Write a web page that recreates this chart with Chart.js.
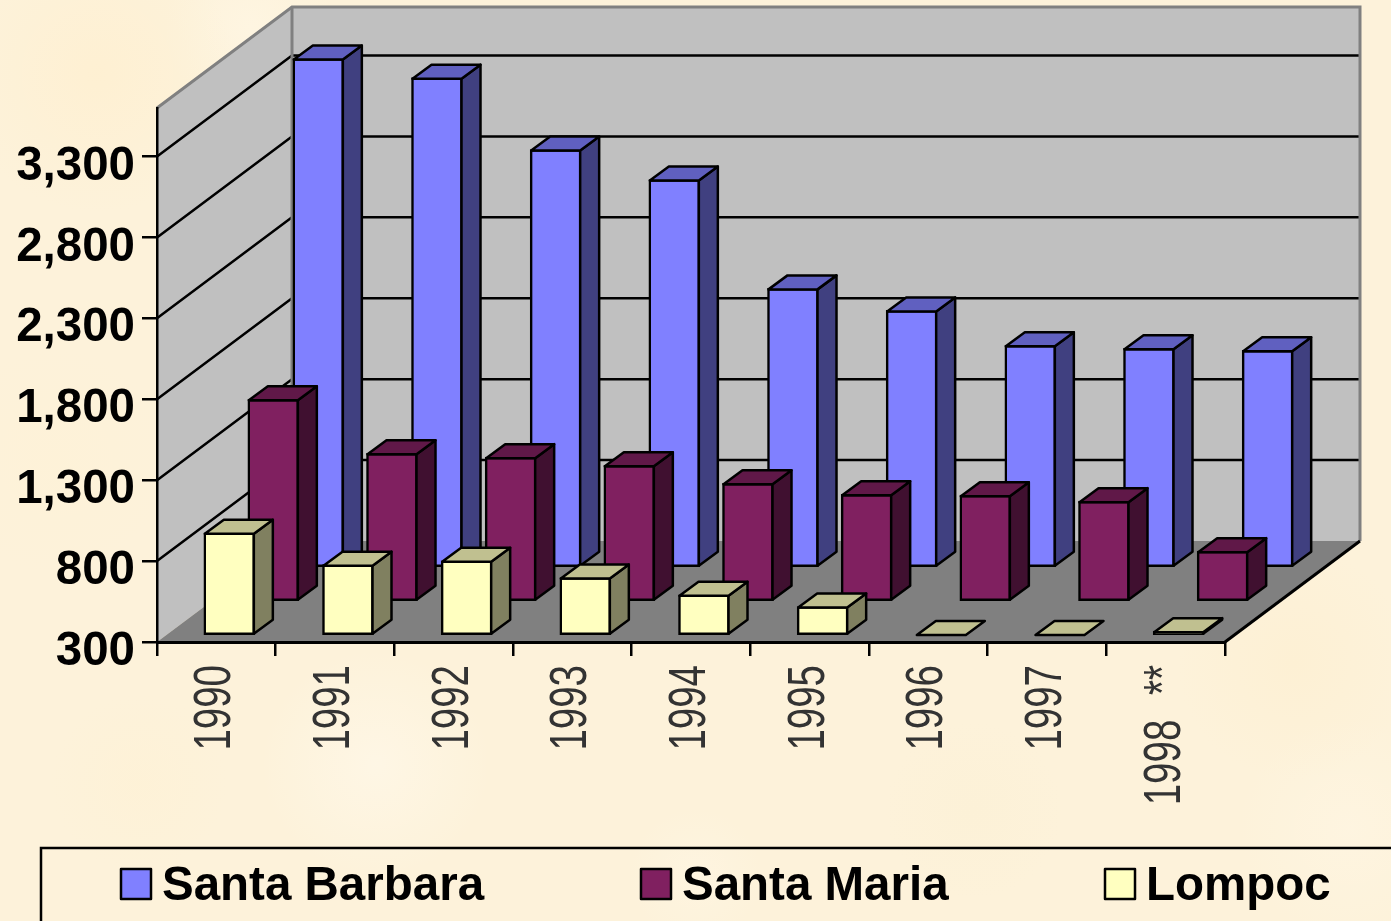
<!DOCTYPE html>
<html>
<head>
<meta charset="utf-8">
<title>Santa Barbara, Santa Maria, Lompoc</title>
<script src="https://cdn.jsdelivr.net/npm/chart.js@4"></script>
<style>
  html, body { margin: 0; padding: 0; overflow: hidden; }
  body {
    width: 1391px; height: 921px;
    background-color: #fdf2da;
    background-image:
      radial-gradient(circle at 7% 8%, rgba(255,238,204,.55), transparent 9%),
      radial-gradient(circle at 18% 3%, rgba(255,248,232,.5), transparent 6%),
      radial-gradient(circle at 27% 83%, rgba(255,249,236,.6), transparent 9%),
      radial-gradient(circle at 93% 72%, rgba(253,238,206,.5), transparent 8%),
      radial-gradient(circle at 70% 88%, rgba(251,240,212,.5), transparent 7%),
      radial-gradient(circle at 4% 50%, rgba(254,242,214,.5), transparent 8%),
      radial-gradient(circle at 97% 90%, rgba(255,247,230,.5), transparent 7%),
      radial-gradient(circle at 50% 95%, rgba(255,247,230,.5), transparent 6%),
      radial-gradient(circle at 10% 85%, rgba(254,241,212,.5), transparent 6%);
  }
  canvas { display: block; }
</style>
</head>
<body>
<canvas id="rainfall" width="1391" height="921"></canvas>
<script>
const years = ['1990', '1991', '1992', '1993', '1994', '1995', '1996', '1997', '1998 **'];
const yTicks = [300, 800, 1300, 1800, 2300, 2800, 3300];

const santaBarbara = [3448, 3330, 2886, 2701, 2028, 1892, 1676, 1658, 1645];
const santaMaria = [1553, 1219, 1195, 1145, 1034, 966, 960, 923, 614];
const lompoc = [938, 741, 765, 661, 555, 482, 300, 300, 330];

// how far each row of bars sits behind the front of the floor
const rowShift = [[102, -74], [57, -40], [13, -6]];
const barDepth = [19, -14];
const wallDepth = [135, -101];

const faceColors = ['#8080ff', '#802060', '#ffffc0'];
const sideColors = ['#404080', '#401030', '#808060'];
const topColors = ['#6060c0', '#601848', '#c0c090'];

function poly(ctx, pts, fill, stroke, width) {
  ctx.beginPath();
  pts.forEach((p, i) => i ? ctx.lineTo(p[0], p[1]) : ctx.moveTo(p[0], p[1]));
  ctx.closePath();
  if (fill) { ctx.fillStyle = fill; ctx.fill(); }
  if (stroke) { ctx.strokeStyle = stroke; ctx.lineWidth = width; ctx.lineJoin = 'round'; ctx.stroke(); }
}

function line(ctx, pts, color, width) {
  ctx.beginPath();
  pts.forEach((p, i) => i ? ctx.lineTo(p[0], p[1]) : ctx.moveTo(p[0], p[1]));
  ctx.strokeStyle = color;
  ctx.lineWidth = width;
  ctx.stroke();
}

// walls and floor behind the bars
const walls = {
  id: 'walls',
  beforeDraw(chart) {
    const { ctx, chartArea: a, scales } = chart;
    const [dx, dy] = wallDepth;
    ctx.save();
    poly(ctx, [[a.left, a.bottom], [a.left, a.top], [a.left + dx, a.top + dy], [a.left + dx, a.bottom + dy]], '#c0c0c0');
    poly(ctx, [[a.left + dx, a.top + dy], [a.right + dx, a.top + dy], [a.right + dx, a.bottom + dy], [a.left + dx, a.bottom + dy]], '#c0c0c0');
    yTicks.slice(1).forEach(v => {
      const y = scales.y.getPixelForValue(v);
      line(ctx, [[a.left, y], [a.left + dx, y + dy], [a.right + dx, y + dy]], '#000', 2.5);
    });
    line(ctx, [[a.left, a.top], [a.left + dx, a.top + dy], [a.right + dx, a.top + dy], [a.right + dx, a.bottom + dy]], '#808080', 3);
    line(ctx, [[a.left + dx, a.top + dy], [a.left + dx, a.bottom + dy]], '#808080', 3);
    poly(ctx, [[a.left, a.bottom], [a.right, a.bottom], [a.right + dx, a.bottom + dy], [a.left + dx, a.bottom + dy]], '#808080');
    line(ctx, [[a.right, a.bottom], [a.right + dx, a.bottom + dy]], '#000', 3);
    ctx.restore();
  }
};

// shifts each row back and adds the side and top faces
const bars3d = {
  id: 'bars3d',
  beforeDatasetDraw(chart, args) {
    const [sx, sy] = rowShift[args.index];
    chart.ctx.save();
    chart.ctx.translate(sx, sy);
  },
  afterDatasetDraw(chart, args) {
    const ctx = chart.ctx;
    const [dx, dy] = barDepth;
    args.meta.data.forEach(bar => {
      const r = bar.x + bar.width / 2 - 1;
      const l = bar.x - bar.width / 2 + 1;
      const t = bar.y + 1;
      const b = bar.base - 1;
      const top = Math.min(t, b);
      if (b > t) poly(ctx, [[r, t], [r + dx, t + dy], [r + dx, b + dy], [r, b]], sideColors[args.index], '#000', 2.5);
      poly(ctx, [[l, top], [l + dx, top + dy], [r + dx, top + dy], [r, top]], topColors[args.index], '#000', 2.5);
    });
    ctx.restore();
  }
};

// tall thin year labels, the library cannot squeeze a font
const yearLabels = {
  id: 'yearLabels',
  afterDraw(chart) {
    const ctx = chart.ctx;
    const xScale = chart.scales.x;
    chart.data.labels.forEach((label, i) => {
      ctx.save();
      ctx.translate(xScale.getPixelForValue(i) + 14, 665);
      ctx.rotate(-Math.PI / 2);
      ctx.scale(0.74, 1);
      ctx.font = '52px "Liberation Sans"';
      ctx.wordSpacing = '19px';
      ctx.textAlign = 'right';
      ctx.textBaseline = 'alphabetic';
      ctx.fillStyle = '#333';
      ctx.fillText(label, 0, 0);
      ctx.restore();
    });
  }
};

const legendBox = {
  id: 'legendBox',
  afterDraw(chart) {
    const ctx = chart.ctx;
    const swatchX = [121, 641, 1105];
    ctx.save();
    line(ctx, [[41, 921], [41, 848], [1391, 848]], '#000', 2.5);
    ctx.font = 'bold 47.5px "Liberation Sans"';
    ctx.textBaseline = 'middle';
    chart.data.datasets.forEach((ds, i) => {
      poly(ctx, [[swatchX[i], 869], [swatchX[i] + 30, 869], [swatchX[i] + 30, 899], [swatchX[i], 899]], faceColors[i], '#000', 2.5);
      ctx.fillStyle = '#000';
      ctx.fillText(ds.label, swatchX[i] + 41, 887);
    });
    ctx.restore();
  }
};

new Chart(document.getElementById('rainfall').getContext('2d'), {
  type: 'bar',
  data: {
    labels: years,
    datasets: [
      { label: 'Santa Barbara', data: santaBarbara, backgroundColor: faceColors[0], order: 3 },
      { label: 'Santa Maria', data: santaMaria, backgroundColor: faceColors[1], order: 2 },
      { label: 'Lompoc', data: lompoc, backgroundColor: faceColors[2], order: 1 }
    ]
  },
  options: {
    responsive: false,
    animation: false,
    clip: false,
    layout: { padding: { top: 108, right: 166, left: 0, bottom: 0 } },
    datasets: { bar: { grouped: false, base: 300, barThickness: 51, borderWidth: 2.5, borderColor: '#000', borderSkipped: false } },
    plugins: { legend: { display: false }, tooltip: { enabled: false } },
    scales: {
      x: {
        afterFit: s => { s.height = 279; },
        border: { color: '#000', width: 3 },
        grid: { drawOnChartArea: false, color: '#000', lineWidth: 2.5, tickLength: 14 },
        ticks: { display: false, autoSkip: false }
      },
      y: {
        min: 300,
        max: 3600,
        afterFit: s => { s.width = 157; },
        afterBuildTicks: s => { s.ticks = yTicks.map(v => ({ value: v })); },
        border: { color: '#000', width: 2.5 },
        grid: { drawOnChartArea: false, color: '#000', lineWidth: 2.5, tickLength: 15 },
        ticks: {
          padding: 7, labelOffset: 10, color: '#000',
          callback: v => v.toLocaleString('en-US'),
          font: { family: '"Liberation Sans"', weight: 'bold', size: 47.5 }
        }
      }
    }
  },
  plugins: [walls, bars3d, yearLabels, legendBox]
});
</script>
</body>
</html>
